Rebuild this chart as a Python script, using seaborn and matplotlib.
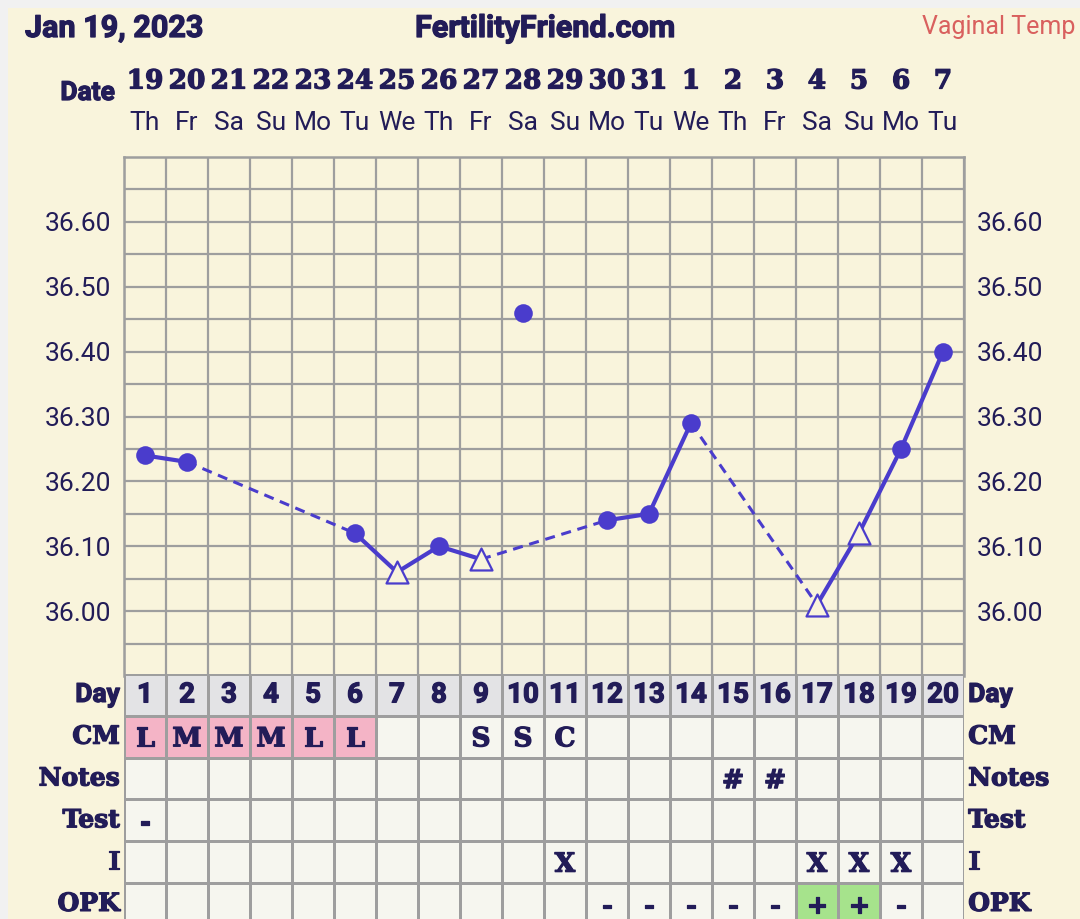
import numpy as np
import pandas as pd
import matplotlib
matplotlib.use("Agg")
import matplotlib.pyplot as plt
import matplotlib.transforms as mtransforms
import matplotlib.patheffects as pe
from matplotlib.colors import ListedColormap
from matplotlib.patches import Rectangle
import seaborn as sns

# ---------------- data ----------------
cycle_days = list(range(1, 21))
dates = [19, 20, 21, 22, 23, 24, 25, 26, 27, 28, 29, 30, 31, 1, 2, 3, 4, 5, 6, 7]
weekdays = ["Th", "Fr", "Sa", "Su", "Mo", "Tu", "We", "Th", "Fr", "Sa",
            "Su", "Mo", "Tu", "We", "Th", "Fr", "Sa", "Su", "Mo", "Tu"]
temps = [36.24, 36.23, np.nan, np.nan, np.nan, 36.12, 36.06, 36.10, 36.08, 36.46,
         np.nan, 36.14, 36.15, 36.29, np.nan, np.nan, 36.01, 36.12, 36.25, 36.40]
temp_kind = ["closed", "closed", "", "", "", "closed", "open", "closed", "open", "discard",
             "", "closed", "closed", "closed", "", "", "open", "open", "closed", "closed"]
cm = ["L", "M", "M", "M", "L", "L", "", "", "S", "S", "C", "", "", "", "", "", "", "", "", ""]
notes = ["", "", "", "", "", "", "", "", "", "", "", "", "", "", "#", "#", "", "", "", ""]
test = ["-", "", "", "", "", "", "", "", "", "", "", "", "", "", "", "", "", "", "", ""]
intercourse = ["", "", "", "", "", "", "", "", "", "", "X", "", "", "", "", "", "X", "X", "X", ""]
opk = ["", "", "", "", "", "", "", "", "", "", "", "-", "-", "-", "-", "-", "+", "+", "-", ""]
row_labels = ["Day", "CM", "Notes", "Test", "I", "OPK"]
y_ticks = [36.00, 36.10, 36.20, 36.30, 36.40, 36.50, 36.60]

# ---------------- style ----------------
W, H = 1080, 919
NAVY = "#221c58"
LINE = "#4a3ccc"
CREAM = "#f9f4dc"
GRID = "#9e9e9e"
HEAVY = [pe.withStroke(linewidth=0.9, foreground=NAVY)]

sns.set_theme(style="white")
plt.rcParams["font.family"] = ["Roboto", "DejaVu Sans"]

fig = plt.figure(figsize=(W / 100, H / 100), dpi=100, facecolor=CREAM)
# light grey frame strips at top and left (screenshot margin)
fig.patches.append(Rectangle((0, 1 - 8 / H), 1, 8 / H, transform=fig.transFigure,
                             facecolor="#f1f1f1", edgecolor="none", zorder=-10))
fig.patches.append(Rectangle((0, 0), 8 / W, 1, transform=fig.transFigure,
                             facecolor="#f1f1f1", edgecolor="none", zorder=-10))

def fx(px):
    return px / W

def fy(py):
    return 1 - py / H

# ---------------- temperature chart ----------------
ax = fig.add_axes([fx(124), fy(676), fx(964) - fx(124), fy(157) - fy(676)])
ax.set_facecolor(CREAM)

df = pd.DataFrame({"day": cycle_days, "temp": temps, "kind": temp_kind})
used = df[df["kind"].isin(["closed", "open"])].reset_index(drop=True)

for i in range(len(used) - 1):
    a, b = used.iloc[i], used.iloc[i + 1]
    seg = pd.DataFrame({"day": [a["day"], b["day"]], "temp": [a["temp"], b["temp"]]})
    if b["day"] - a["day"] == 1:
        sns.lineplot(data=seg, x="day", y="temp", ax=ax, color=LINE, lw=3.0,
                     estimator=None, zorder=3)
    else:
        sns.lineplot(data=seg, x="day", y="temp", ax=ax, color=LINE, lw=2.2,
                     estimator=None, zorder=3)
        ax.lines[-1].set_dashes((3.3, 2.2))

closed = df[df["kind"].isin(["closed", "discard"])]
opened = df[df["kind"] == "open"]
sns.scatterplot(data=closed, x="day", y="temp", ax=ax, marker="o", s=180,
                color=LINE, edgecolor=LINE, linewidth=0, zorder=4)
sns.scatterplot(data=opened, x="day", y="temp", ax=ax, marker="^", s=250,
                color=CREAM, edgecolor=LINE, linewidth=1.6, zorder=4)

ax.set_xlim(0.5, 20.5)
ax.set_ylim(35.90, 36.70)
ax.set_xticks(np.arange(0.5, 21, 1.0))
ax.set_xticklabels([])
ax.set_yticks(y_ticks)
ax.set_yticklabels([f"{v:.2f}" for v in y_ticks])
ax.set_yticks(np.arange(35.95, 36.70, 0.1), minor=True)
ax.tick_params(axis="both", which="both", length=0)
ax.tick_params(axis="y", labelsize=19, labelcolor=NAVY, labelright=True, pad=9)
ax.grid(True, which="both", color=GRID, lw=1.6)
ax.set_axisbelow(True)
ax.set_xlabel("")
ax.set_ylabel("")
for s in ax.spines.values():
    s.set_color(GRID)
    s.set_linewidth(1.8)
ax.spines["bottom"].set_visible(False)

# ---------------- header ----------------
fig.text(fx(25), fy(28), "Jan 19, 2023", ha="left", va="center", fontsize=22,
         fontweight="bold", color=NAVY, path_effects=HEAVY)
fig.text(fx(545), fy(28), "FertilityFriend.com", ha="center", va="center", fontsize=22,
         fontweight="bold", color=NAVY, path_effects=HEAVY)
fig.text(fx(1075), fy(27), "Vaginal Temp", ha="right", va="center", fontsize=18,
         color="#d9605e")
fig.text(fx(115), fy(93), "Date", ha="right", va="center", fontsize=19,
         fontweight="bold", color=NAVY, path_effects=HEAVY)

trans = mtransforms.blended_transform_factory(ax.transData, fig.transFigure)
for d, dt, wd in zip(cycle_days, dates, weekdays):
    ax.text(d, fy(81), str(dt), transform=trans, ha="center", va="center", fontsize=19,
            fontweight="bold", color=NAVY, family=["DejaVu Serif"], path_effects=HEAVY)
    ax.text(d, fy(123), wd, transform=trans, ha="center", va="center", fontsize=19,
            color=NAVY)

# ---------------- table ----------------
rows = [[str(d) for d in cycle_days], cm, notes, test, intercourse, opk]
codes = np.ones((len(rows), len(cycle_days)))
codes[0, :] = 0
for j, v in enumerate(cm):
    if v in ("L", "M"):
        codes[1, j] = 2
for j, v in enumerate(opk):
    if v == "+":
        codes[5, j] = 3
cmap = ListedColormap(["#e3e3e5", "#f6f6ef", "#f4b4c6", "#a6e38c"])

row_h = 41.8
tax = fig.add_axes([fx(124), fy(674 + row_h * 6), fx(964) - fx(124), fy(674) - fy(674 + row_h * 6)])
sns.heatmap(codes, ax=tax, cmap=cmap, vmin=-0.5, vmax=3.5, cbar=False,
            linewidths=2.0, linecolor=GRID, xticklabels=False, yticklabels=False)

for i, row in enumerate(rows):
    for j, v in enumerate(row):
        if not v:
            continue
        if i == 0:
            tax.text(j + 0.5, i + 0.5, v, ha="center", va="center", fontsize=20,
                     fontweight="bold", color=NAVY, path_effects=HEAVY)
        else:
            tax.text(j + 0.5, i + 0.55, v, ha="center", va="center", fontsize=19,
                     fontweight="bold", color=NAVY, family=["DejaVu Serif"],
                     path_effects=HEAVY)

for i, lab in enumerate(row_labels):
    kw = dict(fontsize=19, fontweight="bold", color=NAVY, va="center", path_effects=HEAVY)
    if i > 0:
        kw.update(family=["DejaVu Serif"], fontsize=18)
    tax.text(-0.1, i + 0.5, lab, ha="right", **kw)
    tax.text(20.1, i + 0.5, lab, ha="left", **kw)

fig.savefig("out.png", dpi=100, facecolor=fig.get_facecolor())
